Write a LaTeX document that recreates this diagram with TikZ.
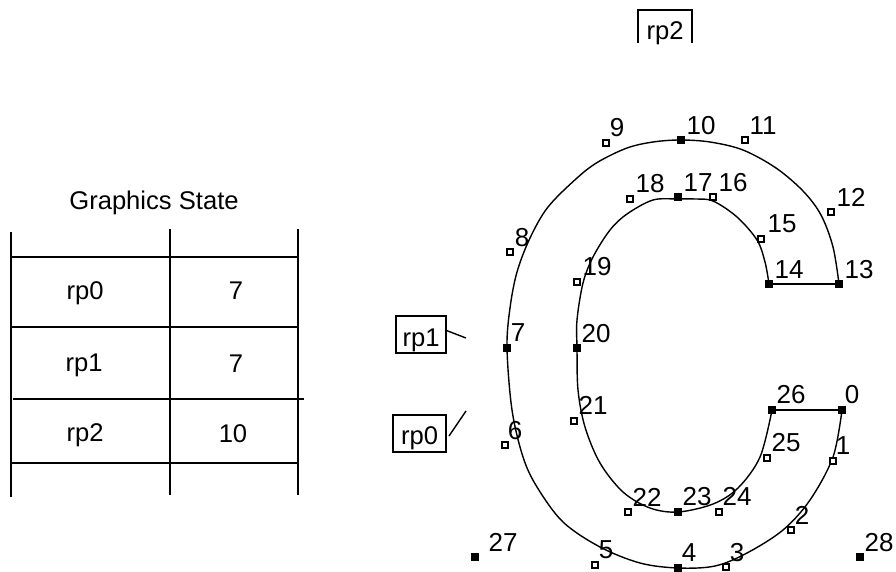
\documentclass[tikz,border=0pt]{standalone}
\usepackage{fontspec}
\setmainfont{Liberation Sans}
\begin{document}
\begin{tikzpicture}[x=1pt,y=-1pt,
  txt/.style={inner sep=0pt,outer sep=0pt,text height=18pt,text depth=0pt,font=\fontsize{25.6}{30}\selectfont},
  lbl/.style={txt,font=\fontsize{26}{30}\selectfont},
  rule/.style={line width=1.4pt,line cap=butt},
  outline/.style={line width=1.4pt,line join=round},
  onpt/.style={draw=black,fill=black,line width=0pt,inner sep=0pt,minimum size=7pt,shape=rectangle},
  offpt/.style={draw=black,fill=white,line width=1.5pt,inner sep=0pt,minimum size=6pt,shape=rectangle},
  boxed/.style={txt,draw=black,line width=1.4pt,anchor=center},
  lead/.style={line width=1.4pt}]
\useasboundingbox (0,0) rectangle (896,571);
% table
\node[txt] (title) at (154,200) {Graphics State};
\foreach \x/\a/\b in {11/232/497,170/229/495,298/229/495} \draw[rule] (\x,\a) -- (\x,\b);
\foreach \y/\a/\b in {257/11/299,327/11/299,399/13/304,463/11/299} \draw[rule] (\a,\y) -- (\b,\y);
\node[txt] (t0) at (85,290) {rp0};
\node[txt] (t1) at (84,362) {rp1};
\node[txt] (t2) at (85,432) {rp2};
\node[txt] (v0) at (236,290) {7};
\node[txt] (v1) at (236,363) {7};
\node[txt] (v2) at (233,433) {10};
% reference point boxes
\node[boxed,text height=23pt,minimum width=50pt,minimum height=37pt] (rp1) at (421,334.5) {rp1};
\node[boxed,text height=21pt,minimum width=53pt,minimum height=37pt] (rp0) at (419.5,433.5) {rp0};
\node[txt,text height=26pt,minimum width=54pt,minimum height=33pt] (rp2) at (665,26.5) {rp2};
\draw[lead] (rp2.south west) |- (rp2.north east) -- (rp2.south east);
\coordinate (e1) at (466,338);
\coordinate (e0) at (466,411);
\draw[lead] (rp1.east) ++(0.5,-4) -- (e1);
\draw[lead] (rp0.east) ++(3,2.5) -- (e0);
% glyph outline
\foreach \n/\x/\y in {0/842/410,4/678/568,7/507/348,10/681/140,13/839/284,14/769/284,17/678/197,20/577/348,23/678/512,26/772/410,27/475/557,28/860/557}
  \node[onpt] (p\n) at (\x,\y) {};
\draw[outline] plot[smooth,tension=0.55] coordinates {(842,410) (833,457) (810,500) (783,530) (747,553) (715,566) (678,568) (640,563) (600,547) (563,522) (537,487) (523,457) (512,410) (507,348) (510,308) (517,272) (530,238) (548,207) (577,178) (598,162) (627,148) (653,142) (680,140) (710,142) (743,150) (776,168) (803,191) (821,215) (833,247) (839,284)};
\draw[outline] plot[smooth,tension=0.55] coordinates {(769,284) (765,262) (757,240) (737,217) (713,201) (695,199) (678,199) (653,200) (627,214) (610,230) (593,257) (583,283) (577,320) (577,348) (578,390) (585,427) (600,463) (623,492) (650,508) (678,512) (713,504) (738,488) (760,457) (772,410)};
\draw[outline] (p13.center) -- (p14.center);
\draw[outline] (p26.center) -- (p0.center);
\foreach \n/\x/\y in {1/833/461,2/791/530,3/726/567,5/595/565,6/505/445,8/510/252,9/606/143,11/745/140,12/831/212,15/761/239,16/713/197,18/630/199,19/577/282,21/574/421,22/628/512,24/719/512,25/767/458}
  \node[offpt] (p\n) at (\x,\y) {};
% point labels
\foreach \t/\x/\y in {0/852/394,1/843/445,2/802/515,3/737/552,4/689/552,5/606/549,6/515/430,7/518/332,8/522/237,9/617/127,10/701/125,11/763/125,12/851/197,13/859/269,14/789/269,15/782/223,16/733/182,17/698/182,18/650/183,19/597/266,20/596/333,21/593/405,22/647/497,23/697/496,24/737/496,25/786/442,26/791/394,27/503/542,28/879/542}
  \node[lbl] (l\t) at (\x,\y) {\t};
\end{tikzpicture}
\end{document}
